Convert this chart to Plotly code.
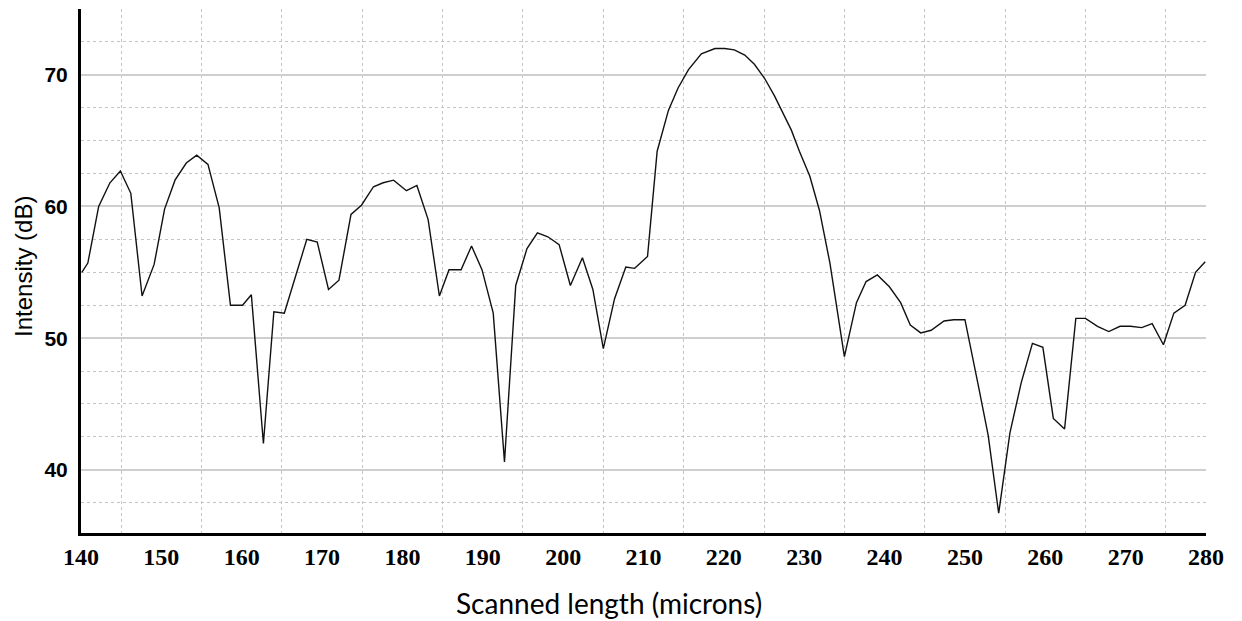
import plotly.graph_objects as go

# Scanned length (microns)
x_microns = [
    140.1, 140.85, 142.2, 143.6, 144.9, 146.2, 147.6, 149.1, 150.4, 151.7,
    153.1, 154.4, 155.8, 157.2, 158.6, 160.1, 161.2, 162.7,
    164.0, 165.3, 166.9, 168.1, 169.4, 170.8, 172.1, 173.6, 174.9, 176.4,
    177.6, 178.9, 180.5, 181.8, 183.2, 184.6, 185.8,
    187.3, 188.6, 189.9, 191.3, 192.7, 194.1, 195.5, 196.8, 198.1, 199.5,
    200.9, 202.4, 203.7, 205.0, 206.4, 207.8, 208.9,
    210.5, 211.7, 213.1, 214.3, 215.6, 217.2, 218.9, 220.1, 221.3, 222.6,
    223.8, 225.1, 226.3, 227.3, 228.4, 229.4, 230.7, 231.9, 233.2,
    235.0, 236.5, 237.7, 239.1, 240.6, 242.0, 243.2, 244.5, 245.8, 247.4,
    248.6, 250.0, 251.7, 252.9, 254.2, 255.6,
    257.0, 258.4, 259.7, 261.0, 262.4, 263.8, 265.0, 266.5, 267.9, 269.3,
    270.6, 272.0, 273.3, 274.7, 276.0, 277.4, 278.7, 279.9,
]

# Intensity (dB)
intensity_db = [
    55.0, 55.7, 60.0, 61.8, 62.7, 61.0, 53.2, 55.6, 59.8, 62.0,
    63.3, 63.9, 63.2, 59.9, 52.5, 52.5, 53.3, 42.0,
    52.0, 51.9, 55.1, 57.5, 57.3, 53.7, 54.4, 59.4, 60.1, 61.5,
    61.8, 62.0, 61.2, 61.6, 59.0, 53.2, 55.2,
    55.2, 57.0, 55.2, 51.9, 40.6, 54.0, 56.8, 58.0, 57.7, 57.1,
    54.0, 56.1, 53.7, 49.2, 53.0, 55.4, 55.3,
    56.2, 64.2, 67.3, 69.0, 70.4, 71.6, 72.0, 72.0, 71.9, 71.5,
    70.8, 69.7, 68.4, 67.2, 65.8, 64.2, 62.3, 59.7, 55.7,
    48.6, 52.7, 54.3, 54.8, 53.9, 52.7, 51.0, 50.4, 50.6, 51.3,
    51.4, 51.4, 46.3, 42.6, 36.7, 42.8,
    46.6, 49.6, 49.3, 43.9, 43.1, 51.5, 51.5, 50.9, 50.5, 50.9,
    50.9, 50.8, 51.1, 49.5, 51.9, 52.5, 55.0, 55.8,
]

x_ticks = [140, 150, 160, 170, 180, 190, 200, 210, 220, 230, 240, 250, 260, 270, 280]
y_ticks = [40, 50, 60, 70]
x_grid = [145, 155, 165, 175, 185, 195, 205, 215, 225, 235, 245, 255, 265, 275]

W, H = 1242, 621
ML, MR, MT, MB = 81, 36, 9, 88
PW, PH = W - ML - MR, H - MT - MB

fig = go.Figure()
fig.add_trace(go.Scatter(
    x=x_microns, y=intensity_db, mode="lines",
    line=dict(color="#111111", width=1.4),
    showlegend=False, hoverinfo="skip",
))

fig.update_layout(
    width=W, height=H,
    margin=dict(l=ML, r=MR, t=MT, b=MB, pad=0),
    paper_bgcolor="white", plot_bgcolor="white",
    xaxis=dict(
        range=[140, 280], tickvals=x_ticks, ticktext=[str(v) for v in x_ticks],
        showgrid=False, zeroline=False,
        showline=True, linecolor="black", linewidth=3,
        ticks="", ticklen=0, ticklabelstandoff=0,
        tickfont=dict(family="Liberation Serif", size=24, color="black", weight="bold"),
        minor=dict(tickvals=x_grid, showgrid=True, gridcolor="#c4c4c4",
                   griddash="dot", gridwidth=1, ticks=""),
    ),
    yaxis=dict(
        range=[35.2, 75.0], tickvals=y_ticks, ticktext=[str(v) for v in y_ticks],
        showgrid=True, gridcolor="#cfcfcf", gridwidth=1.5, zeroline=False,
        showline=True, linecolor="black", linewidth=3,
        ticks="", ticklen=0, ticklabelstandoff=6,
        tickfont=dict(family="Liberation Sans", size=21, color="black", weight="bold"),
        minor=dict(dtick=2.5, tick0=35, showgrid=True, gridcolor="#c4c4c4",
                   griddash="dot", gridwidth=1, ticks=""),
    ),
    annotations=[
        dict(text="Scanned length (microns)", xref="paper", yref="paper",
             x=(609 - ML) / PW, y=(H - MB - 603) / PH,
             xanchor="center", yanchor="middle", showarrow=False,
             font=dict(family="Lato", size=28, color="black")),
        dict(text="Intensity (dB)", xref="paper", yref="paper",
             x=(23 - ML) / PW, y=(H - MB - 267) / PH, textangle=-90,
             xanchor="center", yanchor="middle", showarrow=False,
             font=dict(family="Liberation Sans", size=24, color="black")),
    ],
)

fig.write_html("out.html")
